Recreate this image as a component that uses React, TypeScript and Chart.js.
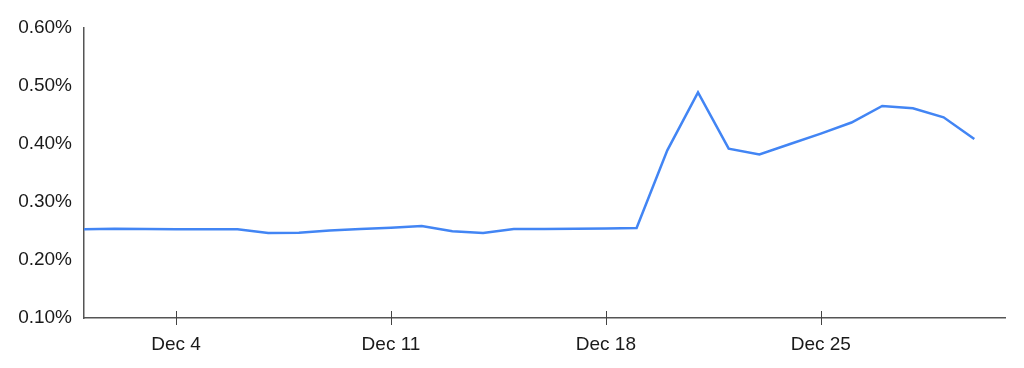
import React, { useEffect, useRef } from "react";
import { Chart, registerables } from "chart.js";

Chart.register(...registerables);

const days = [1, 2, 3, 4, 5, 6, 7, 8, 9, 10, 11, 12, 13, 14, 15, 16, 17, 18, 19, 20, 21, 22, 23, 24, 25, 26, 27, 28, 29, 30];
const rates = [
  0.253, 0.254, 0.2535, 0.253, 0.253, 0.253, 0.2465, 0.247, 0.251, 0.2535,
  0.2555, 0.2585, 0.2495, 0.2465, 0.2535, 0.2535, 0.254, 0.2545, 0.2552, 0.389,
  0.489, 0.392, 0.382, 0.4, 0.418, 0.437, 0.4655, 0.4615, 0.446, 0.4085,
];
const tickDays = [4, 11, 18, 25];
const tickLabels = ["Dec 4", "Dec 11", "Dec 18", "Dec 25"];
const yTicks = [0.1, 0.2, 0.3, 0.4, 0.5, 0.6];

const FONT = "'Liberation Sans', Arial, Helvetica, sans-serif";

const crossTicks = {
  id: "crossTicks",
  afterDraw(chart: any) {
    const x = chart.scales.x;
    const ctx = chart.ctx;
    const y0 = chart.chartArea.bottom;
    ctx.save();
    ctx.strokeStyle = "#444";
    ctx.lineWidth = 1;
    tickDays.forEach((d) => {
      const px = Math.round(x.getPixelForValue(d)) + 0.5;
      ctx.beginPath();
      ctx.moveTo(px, y0 - 7);
      ctx.lineTo(px, y0 + 7);
      ctx.stroke();
    });
    ctx.restore();
  },
};

export default function App() {
  const ref = useRef<HTMLCanvasElement>(null);
  useEffect(() => {
    if (!ref.current) return;
    const chart = new Chart(ref.current, {
      type: "line",
      data: {
        datasets: [
          {
            data: days.map((d, i) => ({ x: d, y: rates[i] })),
            borderColor: "#4285F4",
            borderWidth: 2.5,
            pointRadius: 0,
            tension: 0,
            fill: false,
          },
        ],
      },
      options: {
        animation: false,
        responsive: true,
        maintainAspectRatio: false,
        layout: { padding: { top: 28, right: 19, left: 0, bottom: 0 } },
        plugins: { legend: { display: false }, tooltip: { enabled: false } },
        scales: {
          x: {
            type: "linear",
            min: 1,
            max: 31,
            afterBuildTicks: (s: any) => {
              s.ticks = tickDays.map((v) => ({ value: v }));
            },
            afterFit: (s: any) => {
              s.height = 50;
            },
            grid: { display: false, drawTicks: false },
            border: { display: true, color: "#555", width: 1.5 },
            ticks: {
              padding: 15,
              color: "#1a1a1a",
              font: { family: FONT, size: 19 },
              maxRotation: 0,
              autoSkip: false,
              callback: (v: any) => {
                const i = tickDays.indexOf(Number(v));
                return i >= 0 ? tickLabels[i] : "";
              },
            },
          },
          y: {
            type: "linear",
            min: 0.1,
            max: 0.6,
            afterBuildTicks: (s: any) => {
              s.ticks = yTicks.map((v) => ({ value: v }));
            },
            afterFit: (s: any) => {
              s.width = 84;
            },
            grid: { display: false, drawTicks: false },
            border: { display: true, color: "#555", width: 1.5 },
            ticks: {
              padding: 12,
              color: "#1a1a1a",
              font: { family: FONT, size: 19 },
              callback: (v: any) => Number(v).toFixed(2) + "%",
            },
          },
        },
      },
      plugins: [crossTicks],
    } as any);
    return () => chart.destroy();
  }, []);
  return (
    <div style={{ position: "absolute", left: 0, top: 0, width: 1024, height: 368, background: "#fff" }}>
      <canvas ref={ref} />
    </div>
  );
}
